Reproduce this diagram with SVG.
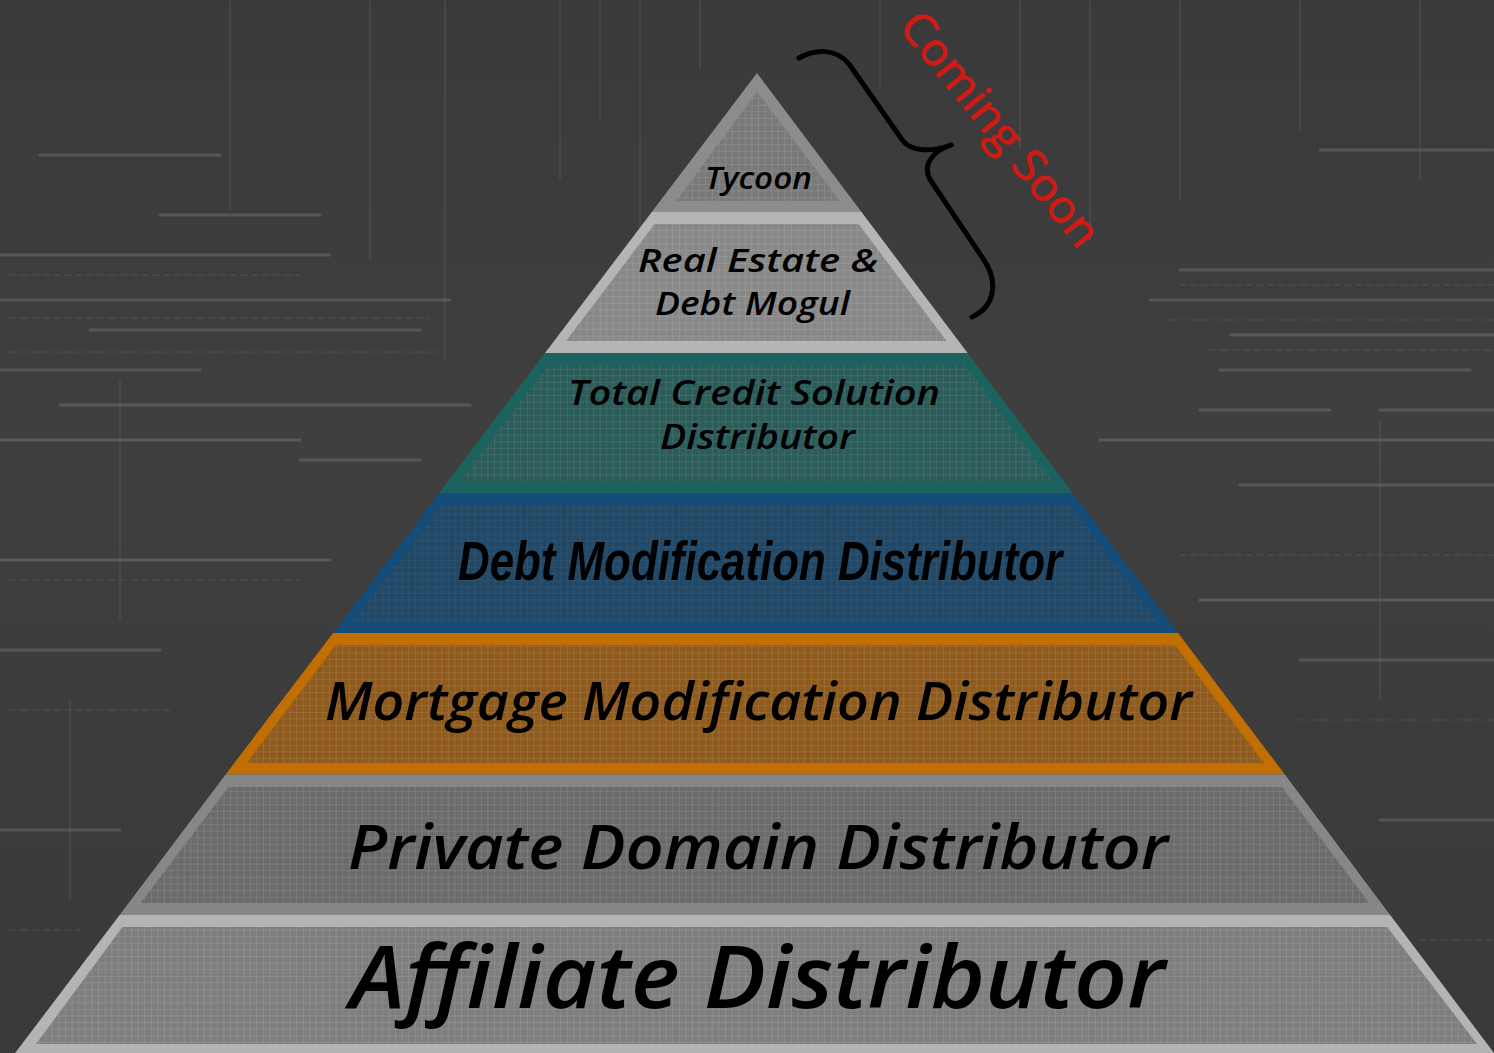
<svg xmlns="http://www.w3.org/2000/svg" width="1494" height="1053" viewBox="0 0 1494 1053">
  <defs>
    <pattern id="grid" patternUnits="userSpaceOnUse" width="6.6" height="6.6">
      <path d="M6.6 0V6.6M0 6.6H6.6" fill="none" stroke="#ffffff" stroke-opacity="0.2" stroke-width="1"/>
    </pattern>
    <linearGradient id="bgFade" x1="0" y1="0" x2="0" y2="1">
      <stop offset="0" stop-color="#3a3a3a"/>
      <stop offset="0.4" stop-color="#3f3f3f"/>
      <stop offset="1" stop-color="#393939"/>
    </linearGradient>
  </defs>
  <style>
    .lbl { font-family: "Open Sans", "Noto Sans", "DejaVu Sans", sans-serif; font-style: italic; font-weight: 600; fill: #000000; }
    .narrow { font-family: "Liberation Sans", Arial, sans-serif; font-style: italic; font-weight: bold; fill: #000000; }
    .grid { fill: url(#grid); }
    .streak { stroke: #9a9a9a; stroke-linecap: round; fill: none; }
    .vline { stroke: #8a8a8a; fill: none; }
    .soon { font-family: "Open Sans", "Noto Sans", sans-serif; font-weight: 400; fill: #d21a14; stroke: #d21a14; stroke-width: 0.8; }
    .brace { fill: none; stroke: #000000; stroke-width: 5; stroke-linecap: round; stroke-linejoin: round; }
  </style>

  <!-- background -->
  <rect x="0" y="0" width="1494" height="1053" fill="url(#bgFade)"/>
  <g id="texture" opacity="0.5">
    <g class="vline" stroke-opacity="0.3" stroke-width="2">
      <path d="M230 0V210"/><path d="M370 0V260"/><path d="M445 0V360"/><path d="M560 0V180"/>
      <path d="M600 0V120"/><path d="M640 0V300"/><path d="M700 0V70"/><path d="M880 0V90"/>
      <path d="M1020 0V150"/><path d="M1090 0V240"/><path d="M1180 0V200"/><path d="M1300 0V130"/>
      <path d="M1420 0V180"/><path d="M120 380V620"/><path d="M1380 420V700"/><path d="M70 700V900"/>
    </g>
    <g class="streak" stroke-opacity="0.55" stroke-width="3">
      <path d="M0 255H330"/><path d="M160 215H320"/><path d="M0 300H450"/><path d="M90 330H420"/>
      <path d="M0 370H200"/><path d="M60 405H470"/><path d="M0 440H300"/><path d="M300 460H420"/>
      <path d="M1180 270H1494"/><path d="M1150 300H1494"/><path d="M1230 335H1494"/><path d="M1220 370H1470"/>
      <path d="M1200 410H1330"/><path d="M1380 410H1494"/><path d="M1100 440H1494"/><path d="M1240 485H1494"/>
      <path d="M40 155H220"/><path d="M1320 150H1494"/><path d="M0 560H330"/><path d="M1200 600H1494"/>
      <path d="M0 650H160"/><path d="M1300 660H1494"/><path d="M0 830H120"/><path d="M1380 820H1494"/>
    </g>
    <g class="streak" stroke-opacity="0.3" stroke-width="1.5" stroke-dasharray="6 5">
      <path d="M10 275H300"/><path d="M10 318H430"/><path d="M10 352H440"/><path d="M1180 285H1494"/>
      <path d="M1170 320H1494"/><path d="M1210 350H1494"/><path d="M1180 555H1494"/><path d="M10 580H300"/>
      <path d="M10 710H170"/><path d="M1300 720H1494"/><path d="M10 930H80"/><path d="M1420 940H1494"/>
    </g>
  </g>

  <!-- pyramid layers -->
  <g id="node-tycoon">
    <polygon points="757,73 651.8,212 861.5,212" fill="#8c8c8c"/>
    <polygon points="757,92 676,201 840,201" fill="#797979"/>
    <polygon points="757,92 676,201 840,201" class="grid"/>
    <text class="lbl" x="705" y="189" font-size="30" textLength="107" lengthAdjust="spacingAndGlyphs">Tycoon</text>
  </g>

  <g id="node-mogul">
    <polygon points="651.8,212 861.5,212 967.6,353 545,353" fill="#b5b5b5"/>
    <polygon points="654.7,224 858.6,224 946.5,341 566.1,341" fill="#888888"/>
    <polygon points="654.7,224 858.6,224 946.5,341 566.1,341" class="grid"/>
    <text class="lbl" x="638" y="272" font-size="33" textLength="240" lengthAdjust="spacingAndGlyphs">Real Estate &amp;</text>
    <text class="lbl" x="655" y="315" font-size="33" textLength="195" lengthAdjust="spacingAndGlyphs">Debt Mogul</text>
  </g>

  <g id="node-total-credit">
    <polygon points="545,353 967.6,353 1072.8,493 439.1,493" fill="#1c625e"/>
    <polygon points="548,365 964.6,365 1051.8,481 460.1,481" fill="#2b5c59"/>
    <polygon points="548,365 964.6,365 1051.8,481 460.1,481" class="grid" opacity="0.8"/>
    <text class="lbl" x="568" y="405" font-size="34" textLength="372" lengthAdjust="spacingAndGlyphs">Total Credit Solution</text>
    <text class="lbl" x="660" y="449" font-size="34" textLength="195" lengthAdjust="spacingAndGlyphs">Distributor</text>
  </g>

  <g id="node-debt-mod">
    <polygon points="439.1,493 1072.8,493 1178.1,633 333.1,633" fill="#164c78"/>
    <polygon points="442,505 1069.9,505 1157.8,622 353.4,622" fill="#214866"/>
    <polygon points="442,505 1069.9,505 1157.8,622 353.4,622" class="grid" opacity="0.5"/>
    <text class="narrow" x="458" y="580" font-size="56" textLength="604" lengthAdjust="spacingAndGlyphs">Debt Modification Distributor</text>
  </g>

  <g id="node-mortgage-mod">
    <polygon points="333.1,633 1178.1,633 1284.9,774.5 225.6,774.5" fill="#c06f00"/>
    <polygon points="336,645 1175.1,645 1263.9,763 246.7,763" fill="#8e5a1d"/>
    <polygon points="336,645 1175.1,645 1263.9,763 246.7,763" class="grid"/>
    <text class="lbl" x="325" y="720" font-size="52" textLength="867" lengthAdjust="spacingAndGlyphs">Mortgage Modification Distributor</text>
  </g>

  <g id="node-private-domain">
    <polygon points="225.6,774.5 1284.9,774.5 1390.2,915 119.6,915" fill="#878787"/>
    <polygon points="228.5,787 1281.9,787 1369.2,903 140.7,903" fill="#6b6b6b"/>
    <polygon points="228.5,787 1281.9,787 1369.2,903 140.7,903" class="grid"/>
    <text class="lbl" x="348" y="869" font-size="62" textLength="820" lengthAdjust="spacingAndGlyphs">Private Domain Distributor</text>
  </g>

  <g id="node-affiliate">
    <polygon points="119.6,915 1390.2,915 1494,1053 15.1,1053" fill="#b4b4b4"/>
    <polygon points="122.5,927 1387.2,927 1477,1044 36,1044" fill="#7e7e7e"/>
    <polygon points="122.5,927 1387.2,927 1477,1044 36,1044" class="grid"/>
    <text class="lbl" x="350" y="1008" font-size="86" textLength="815" lengthAdjust="spacingAndGlyphs">Affiliate Distributor</text>
  </g>

  <!-- connectors / annotation -->
  <g id="connectors">
    <path class="brace" d="M799 58 C815 49 836 48 849 64 L903 141 C912 152 932 152 951 145"/>
    <path class="brace" d="M951 145 C933 151 921 165 931 181 L984 260 C998 281 996 306 972 317"/>
  </g>

  <g id="node-coming-soon">
    <text class="soon" transform="translate(999 130) rotate(51)" x="0" y="14" font-size="45" text-anchor="middle" textLength="288" lengthAdjust="spacingAndGlyphs">Coming Soon</text>
  </g>
</svg>
